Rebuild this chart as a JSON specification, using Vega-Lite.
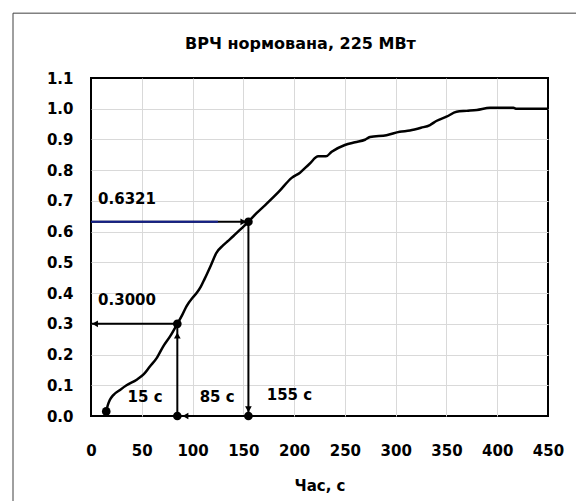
{
  "$schema": "https://vega.github.io/schema/vega-lite/v6.json",
  "width": 457,
  "height": 338,
  "autosize": {"type": "none"},
  "padding": {"left": 91, "top": 78, "right": 28, "bottom": 85},
  "background": "white",
  "title": {
    "text": "ВРЧ нормована, 225 МВт",
    "font": "DejaVu Sans",
    "fontSize": 16,
    "fontWeight": "bold",
    "color": "black",
    "offset": -39,
    "frame": "group",
    "anchor": "middle",
    "dx": -19
  },
  "config": {
    "view": {"stroke": "black", "strokeWidth": 2},
    "axis": {
      "labelFont": "DejaVu Sans",
      "labelFontSize": 15,
      "labelFontWeight": "bold",
      "labelColor": "black",
      "titleFont": "DejaVu Sans",
      "titleFontSize": 15,
      "titleFontWeight": "bold",
      "titleColor": "black",
      "gridColor": "#d9d9d9",
      "gridWidth": 1,
      "ticks": false,
      "tickSize": 0,
      "domain": false
    }
  },
  "datasets": {
    "curve": [
      {"t": 15, "v": 0.015}, {"t": 16.5, "v": 0.035}, {"t": 18.5, "v": 0.052},
      {"t": 22, "v": 0.068}, {"t": 28.6, "v": 0.085}, {"t": 35, "v": 0.1},
      {"t": 45, "v": 0.118}, {"t": 52, "v": 0.136}, {"t": 58, "v": 0.161},
      {"t": 65, "v": 0.19}, {"t": 71, "v": 0.226}, {"t": 78, "v": 0.26},
      {"t": 85, "v": 0.3}, {"t": 90, "v": 0.33}, {"t": 94, "v": 0.357},
      {"t": 100, "v": 0.385}, {"t": 104, "v": 0.4}, {"t": 108, "v": 0.42},
      {"t": 112, "v": 0.447}, {"t": 118, "v": 0.49}, {"t": 123.5, "v": 0.531},
      {"t": 130, "v": 0.555}, {"t": 135, "v": 0.57}, {"t": 140, "v": 0.585},
      {"t": 148, "v": 0.61}, {"t": 155, "v": 0.6321}, {"t": 163, "v": 0.66},
      {"t": 173, "v": 0.691}, {"t": 185, "v": 0.73}, {"t": 197.6, "v": 0.775},
      {"t": 205.8, "v": 0.792}, {"t": 215, "v": 0.82}, {"t": 223.8, "v": 0.845},
      {"t": 231.4, "v": 0.845}, {"t": 237, "v": 0.86}, {"t": 250, "v": 0.882},
      {"t": 260, "v": 0.891}, {"t": 269.8, "v": 0.899}, {"t": 274.7, "v": 0.908},
      {"t": 291, "v": 0.914}, {"t": 304, "v": 0.925}, {"t": 314, "v": 0.929},
      {"t": 325, "v": 0.938}, {"t": 333.8, "v": 0.947}, {"t": 340, "v": 0.96},
      {"t": 350, "v": 0.974}, {"t": 360, "v": 0.99}, {"t": 370, "v": 0.993},
      {"t": 380, "v": 0.996}, {"t": 393, "v": 1.003}, {"t": 416, "v": 1.003},
      {"t": 419, "v": 1.0}, {"t": 450, "v": 1.0}
    ],
    "segments": [
      {"t": 0, "t2": 155, "v": 0.6321, "v2": 0.6321},
      {"t": 155, "t2": 155, "v": 0.6321, "v2": 0},
      {"t": 0, "t2": 85, "v": 0.3, "v2": 0.3},
      {"t": 85, "t2": 85, "v": 0, "v2": 0.3},
      {"t": 85, "t2": 155, "v": 0, "v2": 0}
    ],
    "blue": [
      {"t": 0, "t2": 125, "v": 0.6321, "v2": 0.6321}
    ],
    "heads": [
      {"t": 150, "v": 0.6321, "shape": "triangle-right"},
      {"t": 4, "v": 0.3, "shape": "triangle-left"},
      {"t": 85, "v": 0.262, "shape": "triangle-up"},
      {"t": 93, "v": 0, "shape": "triangle-left"},
      {"t": 155, "v": 0.022, "shape": "triangle-down"}
    ],
    "dots": [
      {"t": 15, "v": 0.015}, {"t": 85, "v": 0.3}, {"t": 155, "v": 0.6321},
      {"t": 85, "v": 0}, {"t": 155, "v": 0}
    ],
    "labels": [
      {"t": 7, "v": 0.705, "label": "0.6321"},
      {"t": 7, "v": 0.377, "label": "0.3000"},
      {"t": 36, "v": 0.062, "label": "15 с"},
      {"t": 107, "v": 0.062, "label": "85 с"},
      {"t": 173, "v": 0.068, "label": "155 с"}
    ]
  },
  "layer": [
    {
      "data": {"values": [{}]},
      "mark": {"type": "rect", "fill": null, "stroke": "#404040", "strokeWidth": 1, "clip": false},
      "encoding": {
        "x": {
          "datum": -76.8, "type": "quantitative",
          "scale": {"domain": [0, 450], "nice": false, "zero": false},
          "axis": {
            "values": [0, 50, 100, 150, 200, 250, 300, 350, 400, 450],
            "grid": true,
            "gridColor": {"condition": {"test": "datum.value <= 0 || datum.value >= 450", "value": "transparent"}, "value": "#d9d9d9"},
            "labelPadding": 27,
            "labelOverlap": false,
            "labelFlush": false,
            "title": "Час, с",
            "titlePadding": 20
          }
        },
        "x2": {"datum": 520},
        "y": {
          "datum": 1.311, "type": "quantitative",
          "scale": {"domain": [0, 1.1], "nice": false, "zero": false},
          "axis": {
            "values": [0, 0.1, 0.2, 0.3, 0.4, 0.5, 0.6, 0.7, 0.8, 0.9, 1.0, 1.1],
            "format": ".1f",
            "grid": true,
            "gridColor": {"condition": {"test": "datum.value <= 0 || datum.value >= 1.1", "value": "transparent"}, "value": "#d9d9d9"},
            "labelPadding": 18,
            "labelOverlap": false,
            "labelFlush": false,
            "title": ""
          }
        },
        "y2": {"datum": -0.4}
      }
    },
    {
      "encoding": {
        "x": {
          "field": "t", "type": "quantitative",
          "scale": {"domain": [0, 450], "nice": false, "zero": false},
          "axis": {
            "values": [0, 50, 100, 150, 200, 250, 300, 350, 400, 450],
            "grid": true,
            "gridColor": {"condition": {"test": "datum.value <= 0 || datum.value >= 450", "value": "transparent"}, "value": "#d9d9d9"},
            "labelPadding": 27,
            "labelOverlap": false,
            "labelFlush": false,
            "title": "Час, с",
            "titlePadding": 20
          }
        },
        "y": {
          "field": "v", "type": "quantitative",
          "scale": {"domain": [0, 1.1], "nice": false, "zero": false},
          "axis": {
            "values": [0, 0.1, 0.2, 0.3, 0.4, 0.5, 0.6, 0.7, 0.8, 0.9, 1.0, 1.1],
            "format": ".1f",
            "grid": true,
            "gridColor": {"condition": {"test": "datum.value <= 0 || datum.value >= 1.1", "value": "transparent"}, "value": "#d9d9d9"},
            "labelPadding": 18,
            "labelOverlap": false,
            "labelFlush": false,
            "title": ""
          }
        }
      },
      "layer": [
        {
          "data": {"name": "curve"},
          "mark": {"type": "line", "color": "black", "strokeWidth": 2.5, "interpolate": "monotone"}
        },
        {
          "data": {"name": "segments"},
          "mark": {"type": "rule", "color": "black", "strokeWidth": 2},
          "encoding": {
            "x2": {"field": "t2"},
            "y2": {"field": "v2"}
          }
        },
        {
          "data": {"name": "blue"},
          "mark": {"type": "rule", "color": "#14208a", "strokeWidth": 2},
          "encoding": {
            "x2": {"field": "t2"},
            "y2": {"field": "v2"}
          }
        },
        {
          "data": {"name": "heads"},
          "mark": {"type": "point", "filled": true, "color": "black", "size": 45, "opacity": 1, "clip": false},
          "encoding": {
            "shape": {"field": "shape", "type": "nominal", "scale": null}
          }
        },
        {
          "data": {"name": "dots"},
          "mark": {"type": "circle", "color": "black", "size": 75, "opacity": 1, "clip": false}
        },
        {
          "data": {"name": "labels"},
          "mark": {"type": "text", "font": "DejaVu Sans", "fontSize": 15, "fontWeight": "bold", "color": "black", "align": "left", "baseline": "middle"},
          "encoding": {
            "text": {"field": "label"}
          }
        }
      ]
    }
  ]
}
